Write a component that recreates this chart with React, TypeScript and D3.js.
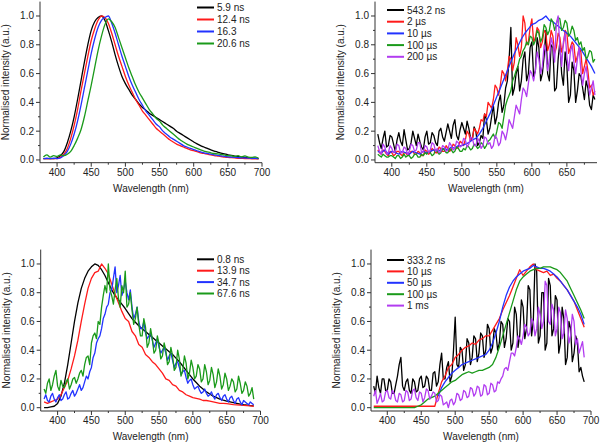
import React from "react";
import * as d3 from "d3";

// ---------- DATA ----------
// Panel A (top-left) wavelengths from 380, step 5
const p1Start = 380;
const p1Black = [.01,.01,.01,.01,.015,.03,.06,.12,.2,.3,.42,.55,.68,.8,.9,.96,.99,1.0,.97,.9,.82,.73,.65,.58,.53,.49,.45,.42,.39,.365,.345,.325,.31,.295,.28,.265,.25,.235,.22,.2,.185,.17,.155,.14,.125,.112,.1,.09,.08,.07,.062,.055,.048,.042,.036,.031,.027,.024,.02,.018,.015,.013,.012,.01];
const p1Red = [.01,.01,.01,.01,.01,.02,.04,.08,.15,.24,.35,.48,.6,.72,.83,.91,.97,1.0,.99,.95,.88,.8,.72,.65,.58,.52,.47,.42,.38,.34,.31,.28,.25,.22,.2,.18,.16,.14,.125,.11,.1,.09,.08,.07,.065,.058,.05,.045,.04,.035,.03,.027,.024,.02,.018,.016,.014,.012,.011,.01,.01,.008,.008,.007];
const p1Blue = [.01,.012,.01,.012,.01,.015,.03,.06,.11,.18,.27,.38,.5,.62,.74,.84,.92,.97,.99,1.0,.95,.88,.8,.72,.65,.58,.52,.47,.42,.38,.34,.31,.28,.25,.23,.2,.18,.16,.145,.13,.115,.1,.09,.08,.072,.064,.056,.05,.045,.04,.035,.032,.028,.025,.022,.02,.018,.016,.015,.014,.013,.012,.011,.01];
const p1Green = [.02,.035,.02,.03,.025,.035,.03,.04,.06,.1,.15,.21,.3,.41,.52,.64,.76,.86,.94,.98,.96,.92,.85,.78,.71,.64,.58,.52,.47,.43,.39,.35,.32,.29,.27,.24,.22,.2,.18,.16,.14,.125,.11,.1,.09,.08,.07,.062,.056,.05,.045,.042,.038,.035,.03,.03,.025,.03,.022,.028,.02,.018,.022,.012];

// Panel B (top-right) wavelengths from 380; step 2.5 unless noted
const p2Start = 380;
const p2Black = [.18,.12,.08,.15,.2,.09,.1,.17,.16,.11,.06,.14,.19,.13,.1,.21,.14,.07,.08,.12,.2,.15,.1,.18,.13,.09,.07,.16,.2,.11,.12,.19,.17,.12,.1,.2,.22,.16,.13,.19,.25,.2,.15,.24,.28,.17,.14,.21,.26,.22,.18,.27,.22,.15,.14,.23,.2,.1,.12,.17,.15,.32,.28,.18,.22,.3,.38,.25,.3,.4,.45,.33,.38,.5,.55,.7,.92,.45,.5,.6,.65,.48,.55,.7,.75,.55,.6,.78,.82,.58,.62,.85,.78,.55,.6,.72,.9,.6,.55,.8,.78,.48,.5,.7,.82,.6,.52,.75,.65,.4,.45,.68,.62,.4,.48,.6,.58,.5,.42,.55,.5,.38,.35,.45,.42];
const p2Red = [.07,.05,.04,.07,.06,.04,.03,.06,.05,.03,.04,.06,.06,.04,.03,.05,.05,.03,.04,.06,.06,.04,.04,.06,.05,.03,.03,.07,.06,.04,.05,.08,.07,.05,.05,.09,.08,.06,.06,.1,.08,.06,.07,.11,.1,.08,.09,.13,.12,.1,.14,.2,.18,.13,.15,.22,.2,.18,.22,.28,.27,.32,.3,.4,.38,.36,.42,.52,.5,.45,.52,.62,.6,.55,.62,.72,.7,.62,.68,.85,.8,.72,.78,1.0,.95,.8,.82,.92,.98,.82,.85,.92,.9,.78,.82,.9,.88,.76,.8,.9,.86,.74,.78,.88,.85,.75,.8,.9,.88,.74,.78,.82,.8,.68,.72,.78,.75,.6,.65,.7,.62,.5,.52,.45,.48];
const p2BlueStep5 = [.06,.05,.07,.04,.06,.05,.04,.06,.05,.04,.06,.05,.04,.06,.05,.06,.07,.06,.07,.08,.07,.09,.08,.1,.1,.11,.12,.14,.15,.18,.22,.27,.32,.38,.44,.5,.56,.62,.68,.74,.79,.84,.88,.91,.94,.95,.97,.98,1.0,.97,.96,.94,.92,.9,.88,.86,.83,.8,.77,.73,.69,.65,.6];
const p2Green = [.04,.03,.02,.04,.03,.02,.02,.03,.03,.02,.01,.03,.03,.01,.02,.04,.02,.03,.03,.01,.02,.04,.04,.02,.02,.04,.03,.05,.04,.06,.05,.03,.04,.07,.06,.04,.05,.08,.07,.05,.05,.08,.07,.05,.06,.09,.08,.06,.06,.08,.07,.1,.09,.07,.08,.11,.1,.08,.09,.12,.11,.08,.1,.13,.14,.16,.18,.15,.2,.26,.25,.22,.3,.38,.42,.45,.48,.55,.58,.62,.65,.7,.72,.76,.78,.82,.8,.86,.85,.8,.83,.9,.88,.82,.85,.94,.92,.87,.9,.98,.96,.9,.94,.99,.98,.9,.92,.97,.95,.86,.88,.93,.9,.83,.85,.8,.82,.76,.78,.7,.72,.76,.75,.68,.7];
const p2Violet = [.1,.06,.04,.11,.09,.04,.05,.1,.08,.05,.06,.11,.1,.05,.05,.09,.08,.04,.06,.11,.1,.06,.07,.12,.12,.05,.06,.1,.09,.05,.07,.12,.11,.06,.08,.05,.06,.1,.09,.06,.07,.12,.1,.07,.08,.13,.12,.09,.1,.15,.14,.09,.11,.16,.15,.1,.1,.15,.13,.08,.1,.16,.15,.11,.12,.08,.1,.17,.15,.1,.12,.2,.18,.14,.2,.28,.25,.22,.3,.38,.35,.32,.42,.5,.48,.44,.53,.62,.6,.55,.62,.75,.7,.6,.65,.8,.75,.62,.7,.85,.8,.68,.95,1.0,.78,.65,.82,.88,.72,.62,.75,.8,.68,.6,.7,.78,.62,.52,.6,.65,.55,.45,.5,.55,.45];

// Panel C (bottom-left) wavelengths from 380
const p3Start = 380;
const p3BlackStep5 = [0,0,.005,.01,.03,.08,.17,.3,.45,.6,.73,.83,.9,.95,.98,1.0,.99,.96,.92,.87,.82,.78,.75,.72,.69,.655,.62,.595,.57,.55,.53,.51,.49,.47,.45,.43,.41,.39,.37,.345,.32,.29,.26,.23,.2,.175,.15,.13,.11,.095,.08,.07,.06,.052,.045,.04,.035,.03,.025,.021,.018,.015,.012];
const p3RedStep5 = [.04,.03,.04,.05,.06,.09,.14,.19,.27,.36,.47,.6,.72,.83,.9,.94,.95,1.0,.97,.93,.86,.79,.73,.67,.62,.6,.53,.5,.44,.42,.37,.35,.32,.3,.27,.24,.2,.19,.16,.15,.12,.11,.09,.08,.07,.065,.06,.05,.05,.045,.04,.035,.03,.03,.028,.025,.022,.02,.018,.016,.014,.012,.01];
const p3Blue = [.06,.09,.05,.04,.08,.1,.06,.04,.07,.09,.05,.06,.09,.11,.06,.07,.1,.12,.08,.1,.13,.16,.12,.14,.18,.22,.2,.25,.28,.35,.38,.45,.48,.5,.55,.62,.65,.7,.72,.8,.82,.9,.98,.8,.85,.92,.78,.82,.88,.8,.75,.82,.7,.62,.65,.7,.6,.55,.55,.6,.52,.48,.5,.52,.47,.42,.45,.48,.42,.38,.4,.42,.38,.33,.36,.38,.33,.28,.31,.32,.28,.23,.25,.26,.21,.17,.19,.2,.16,.13,.14,.15,.12,.1,.11,.13,.1,.08,.09,.11,.08,.06,.09,.1,.07,.05,.08,.09,.06,.04,.07,.08,.05,.03,.06,.07,.04,.02,.05,.04,.03,.02,.04,.03,.02];
const p3Green = [.13,.1,.17,.2,.12,.16,.22,.26,.15,.12,.19,.15,.14,.18,.2,.13,.16,.2,.21,.17,.2,.24,.26,.22,.3,.35,.36,.3,.45,.5,.52,.48,.6,.58,.7,.78,.85,.8,1.0,.82,.78,.72,.82,.9,.76,.7,.85,.8,.95,.7,.72,.8,.68,.58,.62,.7,.58,.5,.5,.62,.56,.42,.45,.55,.48,.38,.4,.5,.44,.34,.36,.45,.4,.3,.32,.42,.36,.26,.28,.4,.34,.22,.26,.36,.31,.2,.24,.33,.28,.2,.22,.3,.27,.18,.2,.3,.25,.16,.19,.28,.23,.14,.18,.27,.22,.13,.16,.24,.2,.12,.15,.2,.18,.11,.13,.22,.17,.1,.12,.18,.15,.08,.1,.14,.06];

// Panel D (bottom-right) wavelengths from 380
const p4Start = 380;
const p4Black = [.15,.1,.22,.14,.1,.2,.2,.12,.12,.2,.18,.1,.1,.16,.22,.3,.35,.15,.12,.18,.2,.12,.1,.2,.18,.11,.12,.2,.22,.14,.15,.22,.2,.12,.12,.24,.25,.15,.18,.3,.38,.2,.2,.28,.32,.18,.22,.4,.63,.3,.28,.42,.4,.26,.3,.48,.45,.3,.35,.5,.48,.32,.38,.52,.5,.35,.4,.58,.55,.38,.42,.55,.52,.4,.45,.6,.58,.42,.48,.62,.6,.4,.45,.7,.65,.42,.5,.75,.7,.48,.55,.85,.82,.5,.6,1.0,.95,.45,.5,.8,.8,.4,.45,.9,.85,.5,.55,.78,.75,.38,.45,.7,.62,.3,.35,.6,.55,.32,.38,.5,.45,.25,.28,.22,.18];
const p4RedStep5 = [.01,.01,.01,.01,.01,.01,.01,.01,.01,.01,.01,.01,.01,.01,.01,.01,.01,.01,.01,.1,.18,.22,.28,.3,.35,.37,.4,.42,.43,.45,.44,.47,.48,.5,.5,.54,.58,.62,.68,.73,.78,.84,.9,.96,.92,.95,.98,1.0,.96,.95,.94,.95,.92,.93,.9,.88,.85,.82,.78,.74,.68,.62,.56];
const p4BlueStart = 475;
const p4BlueStep5 = [.08,.14,.18,.21,.24,.26,.28,.3,.31,.32,.33,.34,.35,.36,.37,.4,.45,.52,.6,.7,.78,.84,.88,.91,.93,.95,.96,.97,.99,.98,.97,.97,.96,.95,.93,.91,.88,.85,.82,.78,.74,.7,.65,.58];
const p4GreenStep5 = [0,0,0,0,0,0,0,0,0,0,0,0,0,.01,.02,.04,.06,.07,.08,.1,.12,.14,.16,.18,.19,.21,.23,.24,.25,.24,.25,.26,.26,.27,.28,.3,.35,.42,.5,.58,.66,.74,.82,.88,.91,.93,.95,.96,.97,.97,.98,.98,.98,.97,.96,.94,.91,.88,.83,.78,.73,.68,.62];
const p4Violet = [.08,.12,.03,.06,.1,.04,.05,.11,.12,.07,.06,.12,.1,.05,.04,.1,.09,.04,.05,.12,.11,.05,.06,.12,.13,.07,.05,.11,.1,.04,.07,.13,.12,.06,.08,.11,.1,.04,.05,.09,.08,.02,.03,.04,0,.05,.06,.02,.04,.1,.09,.05,.06,.12,.11,.07,.08,.14,.13,.08,.1,.15,.14,.08,.09,.16,.15,.09,.1,.17,.16,.11,.12,.18,.17,.2,.22,.27,.28,.26,.32,.38,.38,.36,.42,.5,.48,.44,.5,.58,.56,.5,.52,.62,.6,.5,.55,.7,.65,.55,.6,.88,.85,.6,.58,.72,.68,.5,.55,.7,.66,.48,.52,.68,.62,.45,.5,.65,.6,.44,.48,.38,.42,.46,.35];

const labelsA = ["5.9 ns", "12.4 ns", "16.3", "20.6 ns"];
const labelsB = ["543.2 ns", "2 \u00b5s", "10 \u00b5s", "100 \u00b5s", "200 \u00b5s"];
const labelsC = ["0.8 ns", "13.9 ns", "34.7 ns", "67.6 ns"];
const labelsD = ["333.2 ns", "10 \u00b5s", "50 \u00b5s", "100 \u00b5s", "1 ms"];

const xMajorTicks = [400, 450, 500, 550, 600, 650, 700];
const xMinorTicks = [425, 475, 525, 575, 625, 675];
const yMajorTicks = [0, 0.2, 0.4, 0.6, 0.8, 1.0];
const yMinorTicks = [0.1, 0.3, 0.5, 0.7, 0.9];

// ---------- STYLE ----------
const C = { black: "#000000", red: "#ff1a1a", blue: "#2233ff", green: "#1a9a1a", violet: "#b23cf0" };
const FONT = "Arial, 'Liberation Sans', sans-serif";
const TXT = "#222";

type Series = { start: number; step: number; values: number[]; color: string; label: string };
type Panel = {
  x0: number; x1: number; y0: number; y1: number;
  xDom: [number, number]; yDom: [number, number];
  legX: number; legY: number; legDy: number;
  series: Series[];
  smooth: boolean;
};

const mk = (start: number, step: number, values: number[], color: string, label: string): Series => ({ start, step, values, color, label });

const panels: Panel[] = [
  {
    x0: 40, x1: 262, y0: 162.7, y1: 1.6, xDom: [375, 700], yDom: [-0.019, 1.1],
    legX: 197, legY: 7.5, legDy: 12, smooth: true,
    series: [mk(p1Start, 5, p1Black, C.black, labelsA[0]), mk(p1Start, 5, p1Red, C.red, labelsA[1]), mk(p1Start, 5, p1Blue, C.blue, labelsA[2]), mk(p1Start, 5, p1Green, C.green, labelsA[3])],
  },
  {
    x0: 375, x1: 597, y0: 162.7, y1: 1.6, xDom: [376, 693], yDom: [-0.019, 1.1],
    legX: 387, legY: 10, legDy: 11.7, smooth: false,
    series: [mk(p2Start, 2.5, p2Black, C.black, labelsB[0]), mk(p2Start, 2.5, p2Red, C.red, labelsB[1]), mk(p2Start, 5, p2BlueStep5, C.blue, labelsB[2]), mk(p2Start, 2.5, p2Green, C.green, labelsB[3]), mk(p2Start, 2.5, p2Violet, C.violet, labelsB[4])],
  },
  {
    x0: 40.7, x1: 260.5, y0: 411, y1: 249.6, xDom: [375, 700], yDom: [-0.023, 1.1],
    legX: 197, legY: 259.3, legDy: 11.4, smooth: false,
    series: [mk(p3Start, 5, p3BlackStep5, C.black, labelsC[0]), mk(p3Start, 5, p3RedStep5, C.red, labelsC[1]), mk(p3Start, 2.5, p3Blue, C.blue, labelsC[2]), mk(p3Start, 2.5, p3Green, C.green, labelsC[3])],
  },
  {
    x0: 371, x1: 591, y0: 411, y1: 249.6, xDom: [376, 700], yDom: [-0.023, 1.1],
    legX: 387, legY: 260, legDy: 11.4, smooth: false,
    series: [mk(p4Start, 2.5, p4Black, C.black, labelsD[0]), mk(p4Start, 5, p4RedStep5, C.red, labelsD[1]), mk(p4BlueStart, 5, p4BlueStep5, C.blue, labelsD[2]), mk(p4Start, 5, p4GreenStep5, C.green, labelsD[3]), mk(p4Start, 2.5, p4Violet, C.violet, labelsD[4])],
  },
];

function PanelView({ p }: { p: Panel }) {
  const x = d3.scaleLinear().domain(p.xDom).range([p.x0, p.x1]);
  const y = d3.scaleLinear().domain(p.yDom).range([p.y0, p.y1]);
  const xMajor = xMajorTicks.filter((t) => t >= p.xDom[0] && t <= p.xDom[1]);
  const xMinor = xMinorTicks.filter((t) => t >= p.xDom[0] && t <= p.xDom[1]);
  const line = d3
    .line<[number, number]>()
    .x((d) => x(d[0]))
    .y((d) => y(d[1]))
    .curve(p.smooth ? d3.curveMonotoneX : d3.curveLinear);
  const midY = (p.y0 + p.y1) / 2;
  const midX = (p.x0 + p.x1) / 2;
  return (
    <g>
      {p.series.map((s, i) => {
        const pts: [number, number][] = s.values.map((v, k) => [s.start + k * s.step, v]);
        return <path key={i} d={line(pts) || ""} fill="none" stroke={s.color} strokeWidth={1.3} strokeLinejoin="round" />;
      })}
      <line x1={p.x0} x2={p.x0} y1={p.y1} y2={p.y0} stroke="#333" strokeWidth={1} />
      <line x1={p.x0} x2={p.x1} y1={p.y0} y2={p.y0} stroke="#333" strokeWidth={1} />
      {yMajorTicks.map((t) => (
        <g key={"ym" + t}>
          <line x1={p.x0 - 4} x2={p.x0} y1={y(t)} y2={y(t)} stroke="#333" />
          <text x={p.x0 - 6} y={y(t) + 3.5} textAnchor="end" fontSize={10} fill={TXT} fontFamily={FONT}>{t.toFixed(1)}</text>
        </g>
      ))}
      {yMinorTicks.map((t) => (
        <line key={"yn" + t} x1={p.x0 - 2} x2={p.x0} y1={y(t)} y2={y(t)} stroke="#333" />
      ))}
      {xMajor.map((t) => (
        <g key={"xm" + t}>
          <line x1={x(t)} x2={x(t)} y1={p.y0} y2={p.y0 + 4} stroke="#333" />
          <text x={x(t)} y={p.y0 + 13} textAnchor="middle" fontSize={10} fill={TXT} fontFamily={FONT}>{t}</text>
        </g>
      ))}
      {xMinor.map((t) => (
        <line key={"xn" + t} x1={x(t)} x2={x(t)} y1={p.y0} y2={p.y0 + 2} stroke="#333" />
      ))}
      <text x={midX} y={p.y0 + 29} textAnchor="middle" fontSize={10} fill={TXT} fontFamily={FONT}>Wavelength (nm)</text>
      <text transform={`translate(${p.x0 - 31},${midY}) rotate(-90)`} textAnchor="middle" fontSize={10} fill={TXT} fontFamily={FONT}>Normalised intensity (a.u.)</text>
      {p.series.map((s, i) => (
        <g key={"lg" + i}>
          <line x1={p.legX} x2={p.legX + 17} y1={p.legY + i * p.legDy} y2={p.legY + i * p.legDy} stroke={s.color} strokeWidth={2} />
          <text x={p.legX + 20} y={p.legY + i * p.legDy + 3.5} fontSize={10} fill={TXT} fontFamily={FONT}>{s.label}</text>
        </g>
      ))}
    </g>
  );
}

export default function App() {
  return (
    <svg width={600} height={443} style={{ position: "absolute", left: 0, top: 0, background: "#fff" }}>
      <rect width={600} height={443} fill="#fff" />
      {panels.map((p, i) => (
        <PanelView key={i} p={p} />
      ))}
    </svg>
  );
}
